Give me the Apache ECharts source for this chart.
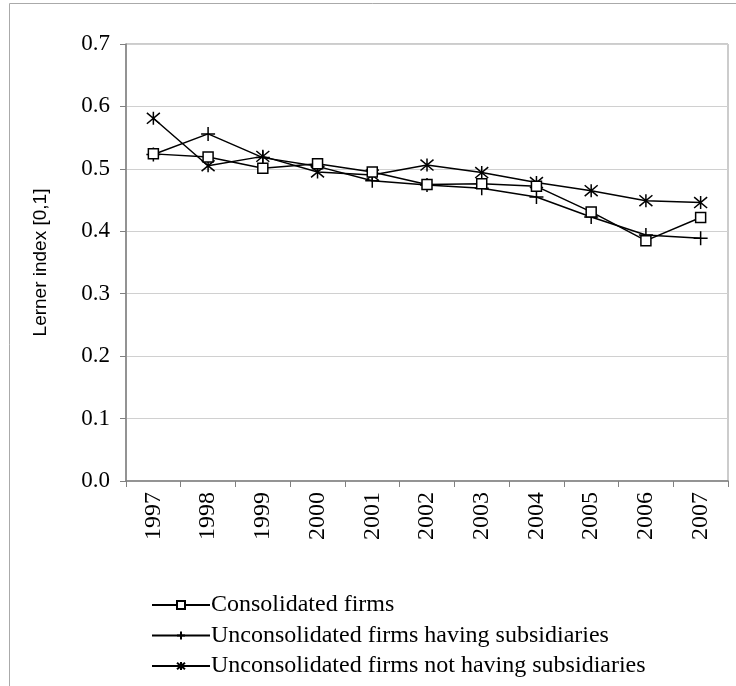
<!DOCTYPE html>
<html>
<head>
<meta charset="utf-8">
<script src="https://cdn.jsdelivr.net/npm/echarts@6/dist/echarts.min.js"></script>
<style>html,body{margin:0;padding:0;background:#fff;}#c{width:736px;height:686px;}</style>
</head>
<body>
<div id="c"></div>
<script>
var years = ['1997','1998','1999','2000','2001','2002','2003','2004','2005','2006','2007'];
var consolidated = [0.524, 0.519, 0.501, 0.508, 0.495, 0.475, 0.476, 0.472, 0.431, 0.385, 0.422];
var uncHaving = [0.523, 0.556, 0.518, 0.504, 0.481, 0.474, 0.469, 0.455, 0.423, 0.394, 0.389];
var uncNotHaving = [0.581, 0.505, 0.520, 0.495, 0.490, 0.506, 0.494, 0.478, 0.465, 0.449, 0.446];
var seriesNames = ['Consolidated firms', 'Unconsolidated firms having subsidiaries', 'Unconsolidated firms not having subsidiaries'];

var serif = '"Liberation Serif", "Times New Roman", serif';
var chart = echarts.init(document.getElementById('c'));
var lineStyle = {color: '#000', width: 1.5};
chart.setOption({
  animation: false,
  backgroundColor: '#fff',
  graphic: [
    {type: 'line', shape: {x1: 9.5, y1: 3.5, x2: 736, y2: 3.5}, style: {stroke: '#aaa', lineWidth: 1}},
    {type: 'line', shape: {x1: 9.5, y1: 3.5, x2: 9.5, y2: 686}, style: {stroke: '#aaa', lineWidth: 1}}
  ],
  grid: {left: 126, right: 8, top: 44, bottom: 205, show: true, borderColor: '#999', borderWidth: 1},
  legend: {
    orient: 'vertical', left: 146, top: 588, itemWidth: 58, itemHeight: 10, itemGap: 6.5,
    textStyle: {fontFamily: serif, fontSize: 24, color: '#000', padding: [0,0,0,-4]},
    data: seriesNames
  },
  xAxis: {
    type: 'category', data: years, boundaryGap: true,
    axisLine: {lineStyle: {color: '#808080', width: 1.5}},
    axisTick: {show: true, length: 6, lineStyle: {color: '#808080'}},
    axisLabel: {rotate: 90, fontFamily: serif, fontSize: 24, color: '#000', margin: 11, interval: 0}
  },
  yAxis: {
    type: 'value', min: 0, max: 0.7, interval: 0.1,
    name: 'Lerner index [0,1]', nameLocation: 'middle', nameGap: 76,
    nameTextStyle: {fontFamily: '"Liberation Sans", Arial, sans-serif', fontSize: 19, color: '#000'},
    axisLine: {show: true, lineStyle: {color: '#808080', width: 1.5}},
    axisTick: {show: true, length: 6, lineStyle: {color: '#808080'}},
    axisLabel: {fontFamily: serif, fontSize: 23, color: '#000', margin: 16, formatter: function(v){return v.toFixed(1);}},
    splitLine: {lineStyle: {color: '#d0d0d0', width: 1}}
  },
  series: [
    {name: seriesNames[0], type: 'line', data: consolidated, symbol: 'rect', symbolSize: 10,
     lineStyle: lineStyle, itemStyle: {color: '#fff', borderColor: '#000', borderWidth: 1.5}, z: 3},
    {name: seriesNames[1], type: 'line', data: uncHaving, symbol: 'path://M0,5L10,5M5,0L5,10', symbolSize: 14,
     lineStyle: lineStyle, itemStyle: {color: 'none', borderColor: '#000', borderWidth: 1.5}, z: 2},
    {name: seriesNames[2], type: 'line', data: uncNotHaving, symbol: 'path://M0,0L10,10M10,0L0,10M5,-1L5,11', symbolSize: 13,
     lineStyle: lineStyle, itemStyle: {color: 'none', borderColor: '#000', borderWidth: 1.5}, z: 2}
  ]
});
</script>
</body>
</html>
